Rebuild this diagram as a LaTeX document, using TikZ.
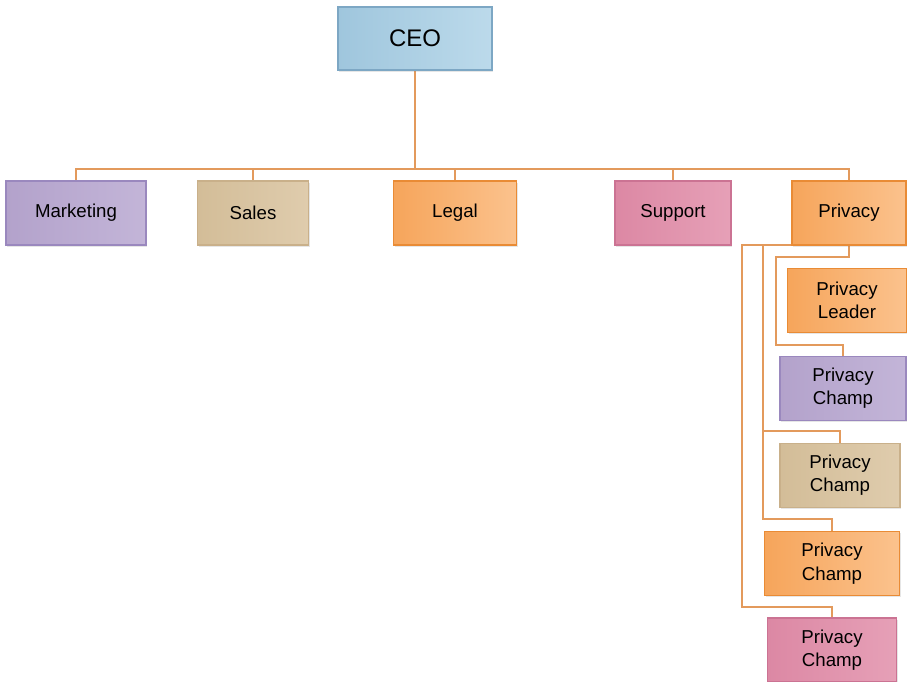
\documentclass[tikz,border=0pt]{standalone}
\usepackage{fontspec}
\setmainfont{Liberation Sans}
\usetikzlibrary{shadows,backgrounds}

% colours of the boxes (A left, B right, D border)
\definecolor{linkC}{HTML}{E39A5C}
\definecolor{bluA}{HTML}{9FC6DD}
\definecolor{bluB}{HTML}{BCDAEB}
\definecolor{bluD}{HTML}{7DA7C4}
\definecolor{purA}{HTML}{B3A2CB}
\definecolor{purB}{HTML}{C3B5D8}
\definecolor{purD}{HTML}{9A88BE}
\definecolor{tanA}{HTML}{D3BD98}
\definecolor{tanB}{HTML}{DFCCAD}
\definecolor{tanD}{HTML}{C9B08A}
\definecolor{orgA}{HTML}{F6A55B}
\definecolor{orgB}{HTML}{FBC28D}
\definecolor{orgD}{HTML}{E98B35}
\definecolor{pnkA}{HTML}{DC88A4}
\definecolor{pnkB}{HTML}{E6A0B7}
\definecolor{pnkD}{HTML}{CB7393}

\begin{document}
\begin{tikzpicture}[x=0.75pt,y=-0.75pt,
    box/.style={draw=#1D, line width=0.8pt, left color=#1A, right color=#1B,
        minimum height=48pt, inner sep=2pt, outer sep=0pt, align=center,
        font=\fontsize{14}{17.5}\selectfont,
        drop shadow={opacity=0.2, shadow xshift=1pt, shadow yshift=-1.2pt}},
    link/.style={draw=linkC, line width=1.2pt}]

    \useasboundingbox (0,0) rectangle (907,682);

    % top
    \node[box=blu, minimum width=115.5pt, minimum height=47.25pt,
        font=\fontsize{18}{22}\selectfont] (ceo) at (415,38.5) {CEO};

    % departments
    \node[box=pur, minimum width=105pt]   (mkt) at (76,213)  {Marketing};
    \node[box=tan, minimum width=83.25pt] (sal) at (253,213) {Sales};
    \node[box=org, minimum width=92.25pt] (leg) at (455,213) {Legal};
    \node[box=pnk, minimum width=87pt]    (sup) at (673,213) {Support};
    \node[box=org, minimum width=85.5pt]  (prv) at (849,213) {Privacy};

    % privacy team
    \node[box=org, minimum width=89.25pt]  (ldr) at (847,300.5) {Privacy\\Leader};
    \node[box=pur, minimum width=94.5pt]   (ch1) at (843,388.5) {Privacy\\Champ};
    \node[box=tan, minimum width=90pt]     (ch2) at (840,475.5) {Privacy\\Champ};
    \node[box=org, minimum width=101.25pt] (ch3) at (832,563.5) {Privacy\\Champ};
    \node[box=pnk, minimum width=96.75pt]  (ch4) at (832,650)   {Privacy\\Champ};

    % connectors
    \coordinate (bus) at (415,169);
    \begin{scope}[on background layer]
        \draw[link] (ceo.south) -- (bus);
        \draw[link] (mkt.north) |- (bus) -| (prv.north);
        \foreach \d in {sal,leg,sup}
            \draw[link] (\d.north) -- (\d.north |- bus);

        \draw[link] (prv.south) -- ++(0,12) -| ++(-73,88) -| (ch1.north);
        \draw[link] (prv.south) -| ++(-86,186) -| (ch2.north);
        \draw[link] (prv.south) -| ++(-86,274) -| (ch3.north);
        \draw[link] (prv.south) -| ++(-107,362) -| (ch4.north);
    \end{scope}

\end{tikzpicture}
\end{document}
